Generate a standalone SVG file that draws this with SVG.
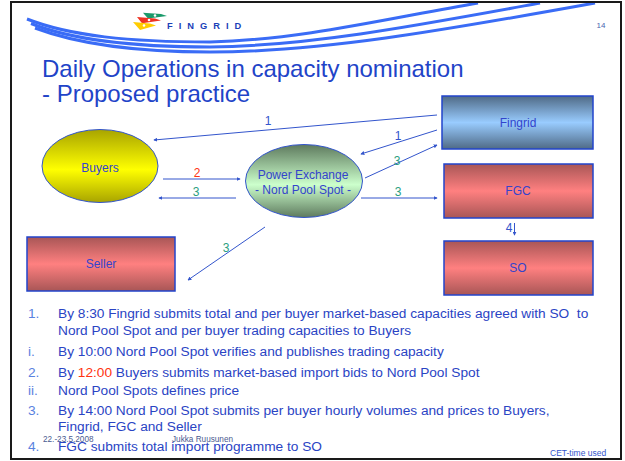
<svg xmlns="http://www.w3.org/2000/svg" width="625" height="461" viewBox="0 0 625 461">
<defs>
<linearGradient id="gBlue" x1="0" y1="0" x2="0" y2="1">
<stop offset="0" stop-color="#4f6a86"/><stop offset="0.5" stop-color="#99ccff"/><stop offset="1" stop-color="#4f6a86"/>
</linearGradient>
<linearGradient id="gRed" x1="0" y1="0" x2="0" y2="1">
<stop offset="0" stop-color="#a85656"/><stop offset="0.5" stop-color="#ff8080"/><stop offset="1" stop-color="#a85656"/>
</linearGradient>
<linearGradient id="gYel" x1="0" y1="0" x2="0" y2="1">
<stop offset="0" stop-color="#a8a400"/><stop offset="0.55" stop-color="#ffff00"/><stop offset="1" stop-color="#a8a400"/>
</linearGradient>
<linearGradient id="gGrn" x1="0" y1="0" x2="0" y2="1">
<stop offset="0" stop-color="#5e7a5e"/><stop offset="0.55" stop-color="#ccffcc"/><stop offset="1" stop-color="#5e7a5e"/>
</linearGradient>
<marker id="ah" viewBox="0 0 6 6" refX="5" refY="3" markerWidth="4" markerHeight="4" orient="auto" markerUnits="userSpaceOnUse">
<path d="M0,0 L6,3 L0,6 z" fill="#3355cc"/>
</marker>
</defs>
<style>
text{font-family:"Liberation Sans",Arial,sans-serif}
.node{font-size:12px;fill:#3344cc;text-anchor:middle}
.box{stroke:#2244cc;stroke-width:1.5}
.ell{stroke:#3355cc;stroke-width:1}
.con{stroke:#3355cc;stroke-width:1;fill:none;marker-end:url(#ah)}
.lbl{font-size:12px;text-anchor:middle}
.li{font-size:13.7px;fill:#2a44c4}
.num{font-size:13.7px;fill:#5a82e0}
.ft{font-size:8.2px;fill:#4a5a90}
</style>
<rect x="0" y="0" width="625" height="461" fill="#ffffff"/>
<g id="header">
<g fill="none" stroke="#3a6cf6" stroke-width="3">
<path d="M27,19 C70,36 130,42 210,42 C300,40 390,18 478,3"/>
<path d="M31,23.5 C75,41 135,47 210,47 C310,46 420,25 540,3"/>
<path d="M35,28 C80,45 140,52 210,52 C320,52 440,31 595,3"/>
</g>
<polygon points="143,12.7 161,14 167,16 148,18.5" fill="#1a9a6a"/>
<circle cx="155" cy="15.5" r="1.3" fill="#fff"/>
<polygon points="137,17 155,18.5 161,20.5 142,23.3" fill="#ee3322"/>
<circle cx="149" cy="20" r="1.3" fill="#fff"/>
<polygon points="133,22 150,23.5 156,25.5 140,30" fill="#ffcc00"/>
<circle cx="144" cy="25.5" r="1.3" fill="#fff"/>
<text x="167" y="28.5" font-size="9.3" font-weight="bold" letter-spacing="6" fill="#1a3fb8">FINGRID</text>
<text x="601" y="28" font-size="8" fill="#4a64b0" text-anchor="middle">14</text>
</g>
<g id="title" fill="#1f44c8" font-size="24">
<text x="42" y="77.3">Daily Operations in capacity nomination</text>
<text x="42" y="101.7">- Proposed practice</text>
</g>
<g id="connectors">
<line class="con" x1="437" y1="115" x2="154" y2="140"/>
<line class="con" x1="437" y1="130" x2="361" y2="154"/>
<line class="con" x1="365" y1="178" x2="437" y2="145"/>
<line class="con" x1="361" y1="198" x2="437" y2="198"/>
<line class="con" x1="163" y1="179" x2="240" y2="179"/>
<line class="con" x1="236" y1="198" x2="159" y2="198"/>
<line class="con" x1="265" y1="227" x2="188" y2="280"/>
<line class="con" x1="514.5" y1="223" x2="514.5" y2="235"/>
<text class="lbl" x="268" y="125" fill="#3355cc">1</text>
<text class="lbl" x="398" y="140" fill="#3355cc">1</text>
<text class="lbl" x="397" y="164.5" fill="#2aa080">3</text>
<text class="lbl" x="398" y="196" fill="#2aa080">3</text>
<text class="lbl" x="197" y="177" fill="#ff3311">2</text>
<text class="lbl" x="196" y="196" fill="#2aa080">3</text>
<text class="lbl" x="226" y="252" fill="#2aa080">3</text>
<text class="lbl" x="509" y="232" fill="#3355cc">4</text>
</g>
<g id="fingrid">
<rect class="box" x="442" y="96" width="151" height="53" fill="url(#gBlue)"/>
<text class="node" x="518" y="127">Fingrid</text>
</g>
<g id="fgc">
<rect class="box" x="444" y="164" width="149" height="54" fill="url(#gRed)"/>
<text class="node" x="518" y="195">FGC</text>
</g>
<g id="so">
<rect class="box" x="444" y="241" width="149" height="54" fill="url(#gRed)"/>
<text class="node" x="518" y="272">SO</text>
</g>
<g id="seller">
<rect class="box" x="27" y="237" width="148" height="54" fill="url(#gRed)"/>
<text class="node" x="101" y="268">Seller</text>
</g>
<g id="buyers">
<ellipse class="ell" cx="100" cy="166" rx="58" ry="36.5" fill="url(#gYel)"/>
<text class="node" x="100" y="172">Buyers</text>
</g>
<g id="powerexchange">
<ellipse class="ell" cx="304" cy="181" rx="58.5" ry="36.5" fill="url(#gGrn)"/>
<text class="node" x="303" y="179">Power Exchange</text>
<text class="node" x="303" y="194">- Nord Pool Spot -</text>
</g>
<g id="notes">
<text class="num" x="28" y="317.5">1.</text>
<text class="li" x="58" y="317.5" xml:space="preserve">By 8:30 Fingrid submits total and per buyer market-based capacities agreed with SO  to</text>
<text class="li" x="58" y="335">Nord Pool Spot and per buyer trading capacities to Buyers</text>
<text class="num" x="28" y="355.5">i.</text>
<text class="li" x="58" y="355.5">By 10:00 Nord Pool Spot verifies and publishes trading capacity</text>
<text class="num" x="28" y="376.5">2.</text>
<text class="li" x="58" y="376.5">By <tspan fill="#ff3311">12:00</tspan> Buyers submits market-based import bids to Nord Pool Spot</text>
<text class="num" x="28" y="395">ii.</text>
<text class="li" x="58" y="395">Nord Pool Spots defines price</text>
<text class="num" x="28" y="415">3.</text>
<text class="li" x="58" y="415">By 14:00 Nord Pool Spot submits per buyer hourly volumes and prices to Buyers,</text>
<text class="li" x="58" y="430.5">Fingrid, FGC and Seller</text>
<text class="num" x="28" y="451">4.</text>
<text class="li" x="58" y="451">FGC submits total import programme to SO</text>
<text class="ft" x="43" y="442">22.-23.5.2008</text>
<text class="ft" x="172" y="442">Jukka Ruusunen</text>
<text x="550" y="456" font-size="8.5" fill="#3355cc">CET-time used</text>
</g>
<rect id="frame" x="11" y="2" width="610" height="457" fill="none" stroke="#1a1a1a" stroke-width="2"/>
</svg>
